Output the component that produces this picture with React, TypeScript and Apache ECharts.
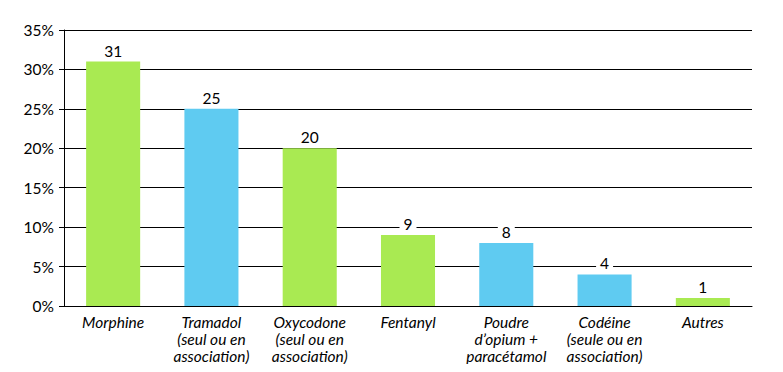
import React, { useEffect, useRef } from "react";
import * as echarts from "echarts";

const categories = [
  "Morphine",
  "Tramadol\n(seul ou en\nassociation)",
  "Oxycodone\n(seul ou en\nassociation)",
  "Fentanyl",
  "Poudre\nd\u2019opium +\nparac\u00e9tamol",
  "Cod\u00e9ine\n(seule ou en\nassociation)",
  "Autres",
];
const values = [31, 25, 20, 9, 8, 4, 1];
const barColors = ["#A9EA52", "#5FCBF1", "#A9EA52", "#A9EA52", "#5FCBF1", "#5FCBF1", "#A9EA52"];
const yTicks = { min: 0, max: 35, interval: 5 };

export default function App() {
  const ref = useRef<HTMLDivElement>(null);
  useEffect(() => {
    if (!ref.current) return;
    const chart = echarts.init(ref.current, null, { renderer: "svg" });
    const font = "Lato, 'Open Sans', sans-serif";
    chart.setOption({
      animation: false,
      textStyle: { fontFamily: font },
      grid: { left: 56, right: 23, top: 22, bottom: 51, containLabel: false },
      xAxis: {
        type: "category",
        data: categories,
        axisLine: { lineStyle: { color: "#000", width: 1 } },
        axisTick: { show: false },
        axisLabel: {
          interval: 0,
          color: "#000",
          fontStyle: "italic",
          fontSize: 15.5,
          lineHeight: 17,
          margin: 7,
          fontFamily: font,
        },
      },
      yAxis: {
        type: "value",
        min: yTicks.min,
        max: yTicks.max,
        interval: yTicks.interval,
        axisLine: { show: true, lineStyle: { color: "#000", width: 1 } },
        axisTick: { show: true, length: 5, lineStyle: { color: "#000" } },
        splitLine: { show: true, lineStyle: { color: "#000", width: 1 } },
        axisLabel: {
          formatter: "{value}%",
          color: "#000",
          fontSize: 15.5,
          margin: 10,
          fontFamily: font,
        },
      },
      series: [
        {
          type: "bar",
          barWidth: "55%",
          data: values.map((v, i) => ({ value: v, itemStyle: { color: barColors[i] } })),
          label: {
            show: true,
            position: "top",
            distance: 3,
            color: "#000",
            fontSize: 15.5,
            fontFamily: font,
            backgroundColor: "#fff",
            padding: [0, 4],
          },
        },
      ],
    });
    return () => chart.dispose();
  }, []);
  return <div ref={ref} style={{ width: 767, height: 356 }} />;
}
